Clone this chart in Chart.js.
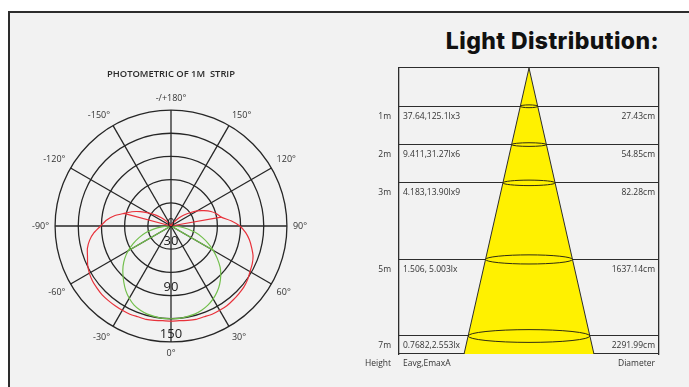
<!DOCTYPE html>
<html>
<head>
<meta charset="utf-8">
<script src="https://cdn.jsdelivr.net/npm/chart.js@4.4.1/dist/chart.umd.min.js"></script>
<style>
  html, body { margin: 0; padding: 0; background: #fff; }
  body { width: 689px; height: 387px; position: relative; overflow: hidden; }
  .panel { position: absolute; left: 8px; top: 11px; width: 700px; height: 400px; box-sizing: border-box; border: 2px solid #2d2d2d; background: #f2f2f2; }
  #polar { position: absolute; left: 1px; top: 64px; }
  #cone { position: absolute; left: 340px; top: 20px; }
  h1 { position: absolute; right: 30px; top: 27px; margin: 0; font: 800 23px Inter, sans-serif; letter-spacing: 0.4px; color: #111; }
</style>
</head>
<body>
<div class="panel"></div>
<h1>Light Distribution:</h1>
<canvas id="polar" width="340" height="295"></canvas>
<canvas id="cone" width="349" height="367"></canvas>
<script>
  // photometric curves, gamma 0..180 in 5 degree steps (left = negative side)
  const gammaStep = 5;
  const redLeft = [123, 123, 124, 125, 125, 126, 126, 126, 126, 126, 125, 124, 122, 119, 115, 112, 107, 100, 91,
    84, 75, 63, 54, 44, 34, 25, 17, 10, 5, 2, 0, 0, 0, 0, 0, 0, 0];
  const redRight = [123, 123, 124, 125, 125, 126, 126, 126, 125, 124, 123, 121, 118, 116, 113, 108, 103, 97, 89,
    78, 66, 61, 55, 47, 39, 30, 22, 15, 9, 5, 2, 0, 0, 0, 0, 0, 0];
  const greenLeft = [120, 120, 119, 118, 116, 113, 108, 102, 95, 88, 81, 73, 64, 54, 44, 34, 23, 12, 3,
    0, 0, 0, 0, 0, 0, 0, 0, 0, 0, 0, 0, 0, 0, 0, 0, 0, 0];
  const greenRight = [120, 120, 119, 118, 116, 113, 109, 104, 98, 91, 83, 73, 63, 53, 43, 33, 22, 11, 2,
    0, 0, 0, 0, 0, 0, 0, 0, 0, 0, 0, 0, 0, 0, 0, 0, 0, 0];
  // single radial strokes back to the lamp centre
  const redEdgeAngles = [-105, 100];
  const redEdgeValues = [63, 66];
  const greenEdgeAngles = [-60, 60];
  const greenEdgeValues = [64, 63];
  const ringLabels = [0, 30, 90, 150];

  // light cone table
  const heights = [1, 2, 3, 5, 7];
  const eavgLabels = ['37.64,125.1lx3', '9.411,31.27lx6', '4.183,13.90lx9', '1.506, 5.003lx', '0.7682,2.553lx'];
  const diameterLabels = ['27.43cm', '54.85cm', '82.28cm', '1637.14cm', '2291.99cm'];
  const beamDiameters = [27.43, 54.85, 82.28, 137.14, 191.99];
  const columnTitles = ['Height', 'Eavg,EmaxA', 'Diameter'];
  const depthMax = 7.47;
  const spanCm = 205;

  Chart.defaults.font.family = '"Open Sans", sans-serif';
  Chart.defaults.color = '#333';

  // radar runs clockwise from the bottom: 0, -5 ... -180, 175 ... 5
  const spokeCount = 360 / gammaStep;
  const gammas = [];
  for (let i = 0; i < spokeCount; i++) {
    const g = i * gammaStep;
    gammas.push(g <= 180 ? -g : 360 - g);
  }
  const pick = (left, right) => gammas.map(g => g <= 0 ? left[-g / gammaStep] : right[g / gammaStep]);
  const edge = (angles, values) => gammas.map(g => {
    const k = angles.indexOf(g);
    return k < 0 ? 0 : values[k];
  });

  const red = '#e8313a';
  const green = '#72bf4c';
  const grid = '#262626';

  const ringValues = {
    id: 'ringValues',
    afterDatasetsDraw(chart) {
      const r = chart.scales.r;
      const ctx = chart.ctx;
      ctx.save();
      ctx.font = '500 13px "Open Sans", sans-serif';
      ctx.fillStyle = '#222';
      ctx.textAlign = 'center';
      ctx.textBaseline = 'middle';
      ringLabels.forEach(v => {
        const d = r.getDistanceFromCenterForValue(v);
        ctx.fillText(String(v), r.xCenter, r.yCenter + d - (v === 0 ? 3 : 8));
      });
      ctx.restore();
    }
  };

  const curve = (data, color, tension) => ({
    data, borderColor: color, borderWidth: 1.2, backgroundColor: 'transparent',
    fill: false, pointRadius: 0, tension
  });

  new Chart(document.getElementById('polar'), {
    type: 'radar',
    data: {
      labels: gammas,
      datasets: [
        curve(pick(redLeft, redRight), red, 0.2),
        curve(edge(redEdgeAngles, redEdgeValues), red, 0),
        curve(pick(greenLeft, greenRight), green, 0.2),
        curve(edge(greenEdgeAngles, greenEdgeValues), green, 0)
      ]
    },
    options: {
      responsive: false,
      animation: false,
      events: [],
      plugins: {
        legend: { display: false },
        tooltip: { enabled: false },
        title: {
          display: true,
          text: 'PHOTOMETRIC OF 1M  STRIP',
          color: '#2a2a2a',
          font: { size: 9.4, weight: '600' },
          padding: { top: 5, bottom: 13 }
        }
      },
      scales: {
        r: {
          min: 0,
          max: 150,
          startAngle: 180,
          ticks: { display: false, stepSize: 30 },
          grid: { circular: true, color: grid, lineWidth: 1.3 },
          angleLines: { color: grid, lineWidth: c => c.index % 6 === 0 ? 1.3 : 0 },
          pointLabels: {
            padding: 6,
            color: '#333',
            font: { size: 9 },
            callback: (g, i) => i % 6 ? '' : (Math.abs(g) === 180 ? '-/+180°' : g + '°')
          }
        }
      }
    },
    plugins: [ringValues]
  });

  // cone outline: apex at the fixture, sides run to the bottom of the table
  const lastRow = heights.length - 1;
  const rimRadius = beamDiameters[lastRow] / 2 * depthMax / heights[lastRow];
  const coneData = [{ x: -rimRadius, y: depthMax }, { x: 0, y: 0 }, { x: rimRadius, y: depthMax }];

  const beamRings = {
    id: 'beamRings',
    afterDatasetsDraw(chart) {
      const { ctx, scales: { x, y } } = chart;
      ctx.save();
      ctx.strokeStyle = '#2f2c12';
      ctx.lineWidth = 1;
      heights.forEach((h, i) => {
        const cx = x.getPixelForValue(0);
        const rx = x.getPixelForValue(beamDiameters[i] / 2) - cx;
        const cy = y.getPixelForValue(h);
        ctx.beginPath();
        ctx.ellipse(cx, cy, rx, Math.max(rx * 0.105, 1.4), 0, 0, Math.PI * 2);
        ctx.stroke();
      });
      ctx.restore();
    }
  };

  const rowTicks = [0, ...heights, depthMax];
  const rowAxis = (extra) => Object.assign({
    type: 'linear',
    reverse: true,
    min: 0,
    max: depthMax,
    afterBuildTicks: s => { s.ticks = rowTicks.map(v => ({ value: v })); },
    grid: { display: false, drawTicks: false },
    border: { display: true, color: '#2d2d2d', width: 1.3 }
  }, extra);
  const rowText = (list, title) => (v, i) => i === 0 ? '' : (i > heights.length ? title : list[i - 1]);
  const tickFont = { size: 8.5 };

  new Chart(document.getElementById('cone'), {
    type: 'scatter',
    data: {
      datasets: [{
        data: coneData,
        showLine: true,
        fill: 'shape',
        backgroundColor: '#fff100',
        borderColor: '#2d2d2d',
        borderWidth: 1,
        pointRadius: 0,
        tension: 0
      }]
    },
    options: {
      responsive: false,
      animation: false,
      events: [],
      layout: { padding: { top: 48, bottom: 33, left: 20, right: 26 } },
      plugins: { legend: { display: false }, tooltip: { enabled: false } },
      scales: {
        x: { type: 'linear', min: -spanCm, max: spanCm, display: false },
        y: rowAxis({
          position: 'left',
          weight: 2,
          afterFit: s => { s.width = 35; },
          grid: { display: true, drawTicks: false, color: '#2d2d2d', lineWidth: 1.1 },
          border: { display: false },
          ticks: { autoSkip: false, padding: 4, labelOffset: 10, font: tickFont,
            callback: rowText(heights.map(h => h + 'm'), columnTitles[0]) }
        }),
        yEavg: rowAxis({
          position: 'left',
          weight: 1,
          afterFit: s => { s.width = 4; },
          ticks: { mirror: true, autoSkip: false, padding: 4, labelOffset: 10, font: tickFont,
            callback: rowText(eavgLabels, columnTitles[1]) }
        }),
        yDia: rowAxis({
          position: 'right',
          weight: 1,
          afterFit: s => { s.width = 4; },
          ticks: { mirror: true, autoSkip: false, padding: -4, labelOffset: 10, font: tickFont,
            callback: rowText(diameterLabels, columnTitles[2]) }
        })
      }
    },
    plugins: [beamRings]
  });
</script>
</body>
</html>
